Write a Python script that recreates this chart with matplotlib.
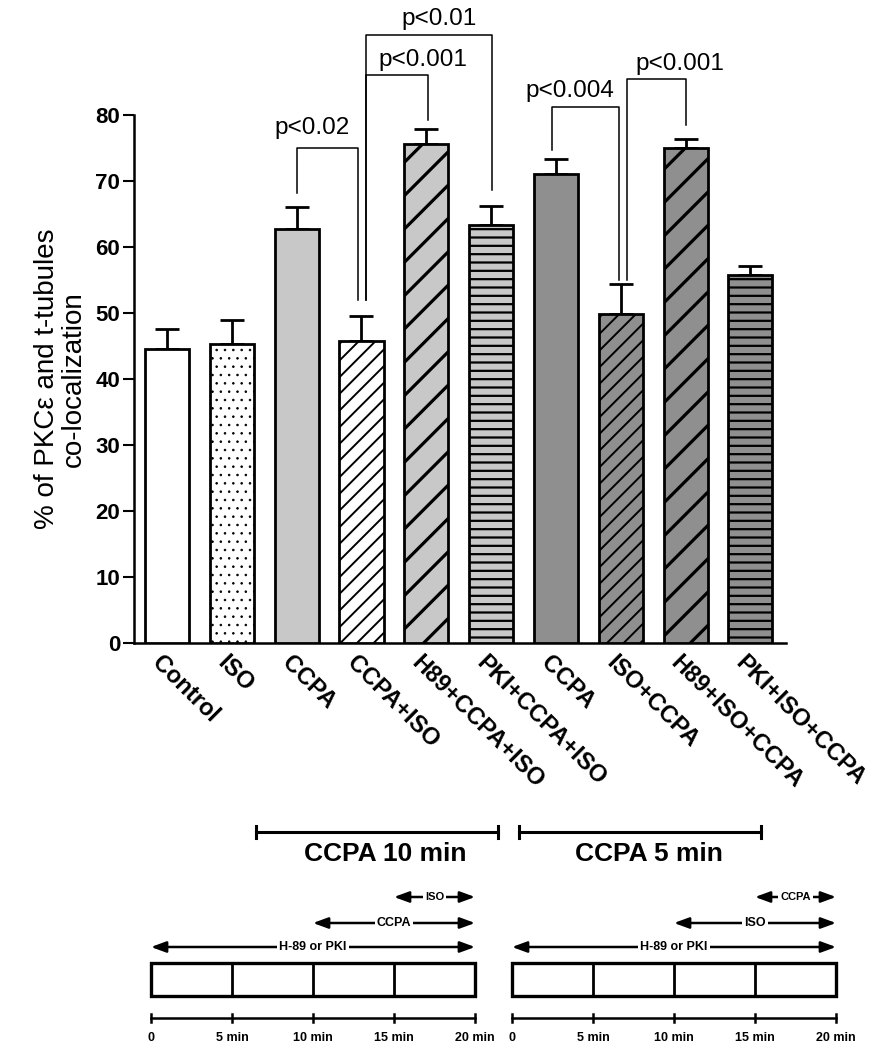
import matplotlib

matplotlib.use("Agg")

import matplotlib.pyplot as plt
import matplotlib.transforms as mtransforms
import numpy as np

# ---- data -------------------------------------------------------------
labels = ["Control", "ISO", "CCPA", "CCPA+ISO", "H89+CCPA+ISO",
          "PKI+CCPA+ISO", "CCPA", "ISO+CCPA", "H89+ISO+CCPA", "PKI+ISO+CCPA"]
means = [44.6, 45.3, 62.8, 45.7, 75.6, 63.3, 71.1, 49.8, 75.0, 55.8]
sem = [3.0, 3.6, 3.2, 3.9, 2.3, 2.9, 2.2, 4.6, 1.4, 1.3]
face_colors = ["white", "white", "#c8c8c8", "white", "#c8c8c8",
               "#c8c8c8", "#8f8f8f", "#8f8f8f", "#8f8f8f", "#8f8f8f"]
hatches = [None, "..", None, "//", "/", "--", None, "//", "/", "--"]
hatch_widths = [1.0, 0.6, 1.0, 1.4, 2.3, 1.6, 1.0, 1.4, 2.3, 1.6]

# significance brackets: left x, right x, left foot, right foot, top, label, text x, text y
brackets = [
    (2.0, 2.95, 68.2, 52.0, 75.0, "p<0.02", 2.24, 78.0),
    (3.07, 4.02, 52.0, 79.2, 86.1, "p<0.001", 3.94, 88.4),
    (3.07, 5.02, 52.0, 68.6, 92.1, "p<0.01", 4.2, 94.5),
    (5.94, 6.97, 74.7, 55.0, 81.2, "p<0.004", 6.22, 83.6),
    (7.1, 8.0, 55.0, 78.5, 85.5, "p<0.001", 7.92, 87.8),
]

# protocol timelines (minutes)
time_ticks = [0, 5, 10, 15, 20]
time_labels = ["0", "5 min", "10 min", "15 min", "20 min"]
protocol_1 = [("H-89 or PKI", 0, 20), ("CCPA", 10, 20), ("ISO", 15, 20)]
protocol_2 = [("H-89 or PKI", 0, 20), ("ISO", 10, 20), ("CCPA", 15, 20)]
title_1 = ("CCPA 10 min", 6.5, 21.4)
title_2 = ("CCPA 5 min", 0.45, 15.4)

plt.rcParams["font.family"] = ["Liberation Sans", "DejaVu Sans"]

fig = plt.figure(figsize=(8.83, 10.5), dpi=100)

# ---- bar chart --------------------------------------------------------
ax = fig.add_axes([134 / 883, 1 - 643 / 1050, (786 - 134) / 883, (643 - 115) / 1050])
x = np.arange(len(labels))

bars = ax.bar(x, means, width=0.68, color=face_colors, edgecolor="black",
              linewidth=2.0, zorder=3)
for bar, h, hw in zip(bars, hatches, hatch_widths):
    if h:
        bar.set_hatch(h)
        if hasattr(bar, "set_hatch_linewidth"):
            bar.set_hatch_linewidth(hw)

ax.errorbar(x, means, yerr=[np.zeros(len(sem)), sem], fmt="none",
            ecolor="black", elinewidth=2.0, capsize=8.3, capthick=2.0, zorder=2)

for xl, xr, yl, yr, top, text, tx, ty in brackets:
    ax.plot([xl, xl, xr, xr], [yl, top, top, yr], color="black",
            linewidth=1.1, clip_on=False, zorder=4)
    ax.text(tx, ty, text, ha="center", va="center", fontsize=17.5)

ax.set_xlim(-0.51, 9.55)
ax.set_ylim(0, 80)
ax.set_yticks(np.arange(0, 81, 10))
ax.spines["top"].set_visible(False)
ax.spines["right"].set_visible(False)
ax.spines["left"].set_linewidth(1.8)
ax.spines["bottom"].set_linewidth(1.8)
ax.tick_params(axis="y", length=8, width=1.5, pad=2, labelsize=16)
ax.tick_params(axis="x", length=0, pad=6)
for lab in ax.get_yticklabels():
    lab.set_fontweight("bold")

ax.set_xticks(x)
ax.set_xticklabels(labels, rotation=-45, ha="left", rotation_mode="anchor",
                   fontsize=17, fontweight="bold")
shift = mtransforms.ScaledTranslation(-3 / 100, 0, fig.dpi_scale_trans)
for lab in ax.get_xticklabels():
    lab.set_transform(lab.get_transform() + shift)

ax.set_ylabel("% of PKC\u03b5 and t-tubules\nco-localization", fontsize=20,
              linespacing=1.05, labelpad=6)


# ---- protocol diagrams ------------------------------------------------
def draw_protocol(left_px, steps, title):
    tax = fig.add_axes([left_px / 883, 0, 324 / 883, 240 / 1050])
    tax.set_xlim(0, 20)
    tax.set_ylim(1050, 810)
    tax.axis("off")

    # title bracket
    name, t0, t1 = title
    tax.plot([t0, t1], [832, 832], color="black", linewidth=2.2, clip_on=False)
    for t in (t0, t1):
        tax.plot([t, t], [826, 838], color="black", linewidth=2.2, clip_on=False)
    tax.text((t0 + t1) / 2 + 0.5, 854, name, ha="center", va="center",
             fontsize=19, fontweight="bold")

    # arrows
    rows = [947, 923, 897]
    for (name, a, b), y in zip(steps, rows):
        tax.annotate("", xy=(b, y), xytext=(a, y),
                     arrowprops=dict(arrowstyle="<|-|>,head_length=0.9,head_width=0.33",
                                     color="black", linewidth=1.8,
                                     shrinkA=0, shrinkB=0),
                     annotation_clip=False)
        size = 9 if (b - a) > 5 else 8
        tax.text((a + b) / 2, y, name, ha="center", va="center", fontsize=size,
                 fontweight="bold",
                 bbox=dict(facecolor="white", edgecolor="none", pad=1.5))

    # box divided in 5-min blocks
    tax.add_patch(plt.Rectangle((0, 963), 20, 33, facecolor="white",
                                edgecolor="black", linewidth=2.4, clip_on=False))
    for t in time_ticks[1:-1]:
        tax.plot([t, t], [963, 996], color="black", linewidth=2.0)

    # time axis
    tax.plot([0, 20], [1018, 1018], color="black", linewidth=1.8, clip_on=False)
    for t, lab in zip(time_ticks, time_labels):
        tax.plot([t, t], [1014, 1022], color="black", linewidth=1.8, clip_on=False)
        tax.text(t, 1038, lab, ha="center", va="center", fontsize=9,
                 fontweight="bold")


draw_protocol(151, protocol_1, title_1)
draw_protocol(512, protocol_2, title_2)

fig.savefig("out.png", dpi=100)
